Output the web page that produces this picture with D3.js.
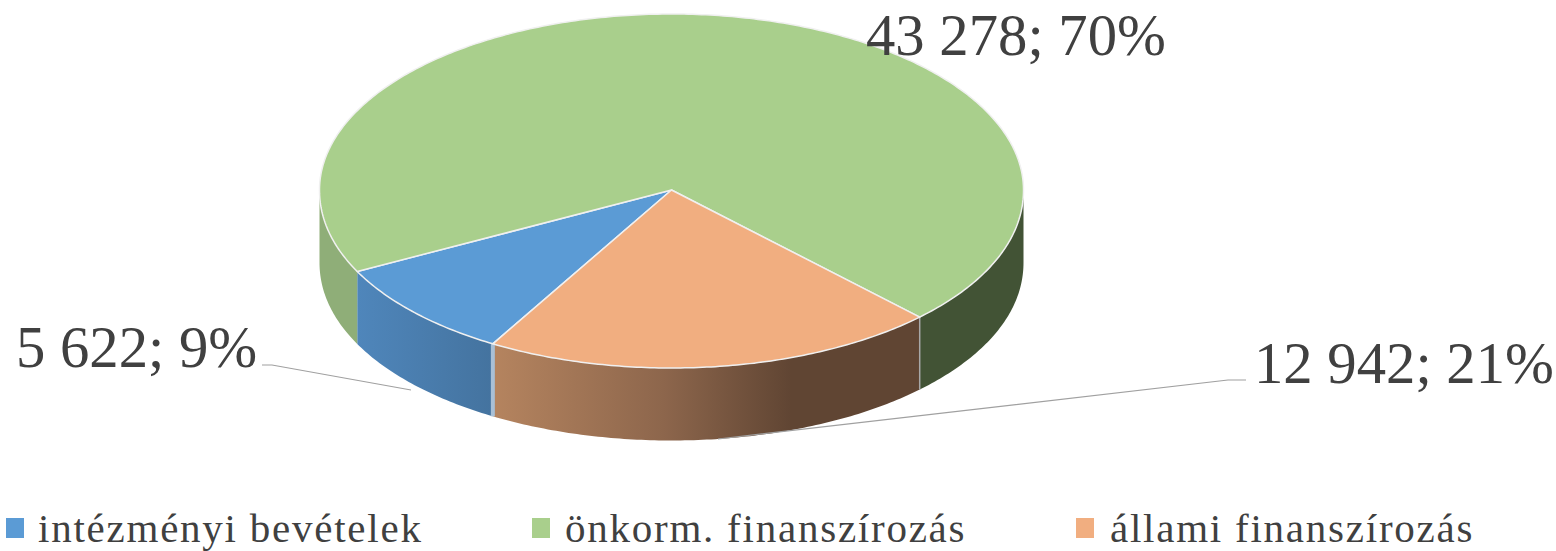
<!DOCTYPE html>
<html>
<head>
<meta charset="utf-8">
<script src="https://cdn.jsdelivr.net/npm/d3@7"></script>
<style>
  html, body { margin: 0; padding: 0; background: #fff; }
  svg { display: block; }
  text { font-family: "Liberation Serif", serif; fill: #404040; }
</style>
</head>
<body>
<svg></svg>
<script>
const categories = ['intézményi bevételek', 'önkorm. finanszírozás', 'állami finanszírozás'];
const values = [5622, 43278, 12942];
const percents = [9, 70, 21];
const valueLabels = ['5 622', '43 278', '12 942'];

const w = 1556;
const h = 551;
const cx = 671.5; // ellipse centre
const cy = 190;
const rx = 352;
const ryBack = 176; // back half of the rim
const ryFront = 178; // front half is a bit fuller (perspective)
const depth = 72.5; // height of the pie wall
const startDeg = 210.5; // first slice angle

const colors = ['#5b9bd5', '#a9cf8c', '#f1ae80'];

const svg = d3.select('svg').attr('width', w).attr('height', h);
const defs = svg.append('defs');

// unit circle -> screen ellipse
const xScale = d3.scaleLinear().domain([-1, 1]).range([cx - rx, cx + rx]);
const yScale = d3.scaleLinear().domain([-1, 0, 1]).range([cy - ryBack, cy, cy + ryFront]);
const px = (a) => xScale(Math.sin(a));
const py = (a) => {
  const c = -Math.cos(a);
  return yScale(c > 0 ? Math.pow(c, 0.98) : c);
};

const pie = d3
  .pie()
  .sort(null)
  .startAngle((startDeg * Math.PI) / 180)
  .endAngle(((startDeg + 360) * Math.PI) / 180);
const slices = pie(values);

const line = d3.line();

// points along the rim from a0 to a1
function rim(a0, a1, dy) {
  const n = Math.max(2, Math.ceil(Math.abs(a1 - a0) * 80));
  return d3.range(n + 1).map((i) => {
    const a = a0 + ((a1 - a0) * i) / n;
    return [px(a), py(a) + dy];
  });
}

// parts of a slice facing the viewer (angle between 90 and 270 deg)
function frontParts(s) {
  const parts = [];
  [0, 2 * Math.PI].forEach((off) => {
    const a0 = Math.max(s.startAngle, Math.PI / 2 + off);
    const a1 = Math.min(s.endAngle, (3 * Math.PI) / 2 + off);
    if (a1 > a0) parts.push([a0, a1]);
  });
  return parts;
}

// wall shading, left to right across each visible part
const wallStops = [
  [[0, '#4f86bb'], [1, '#44739f']],
  null,
  [[0, '#b5845f'], [0.4, '#8d664c'], [0.7, '#604533'], [1, '#604533']],
];
const greenLeft = '#8fae78';
const greenRight = '#425335';

const wallG = svg.append('g');
slices.forEach((s, i) => {
  frontParts(s).forEach((p, j) => {
    const pts = rim(p[0], p[1], 0).concat(rim(p[1], p[0], depth));
    let fill;
    if (wallStops[i]) {
      const xs = [px(p[0]), px(p[1])];
      const id = 'wall' + i + '-' + j;
      const grad = defs
        .append('linearGradient')
        .attr('id', id)
        .attr('gradientUnits', 'userSpaceOnUse')
        .attr('x1', d3.min(xs))
        .attr('x2', d3.max(xs))
        .attr('y1', 0)
        .attr('y2', 0);
      wallStops[i].forEach((st) => {
        grad.append('stop').attr('offset', st[0]).attr('stop-color', st[1]);
      });
      fill = 'url(#' + id + ')';
    } else {
      fill = j === 0 ? greenLeft : greenRight;
    }
    wallG.append('path').attr('d', line(pts) + 'Z').attr('fill', fill);
  });
});

// thin light edges where slices meet on the wall
wallG
  .selectAll('line.cut')
  .data([
    { a: slices[0].startAngle, c: '#a9c0d6', sw: 4 },
    { a: slices[2].startAngle, c: '#a8a8a8', sw: 1.5 },
  ])
  .enter()
  .append('line')
  .attr('class', 'cut')
  .attr('x1', (d) => px(d.a))
  .attr('x2', (d) => px(d.a))
  .attr('y1', (d) => py(d.a))
  .attr('y2', (d) => py(d.a) + depth)
  .attr('stroke', (d) => d.c)
  .attr('stroke-width', (d) => d.sw);

// top faces
svg
  .append('g')
  .selectAll('path')
  .data(slices)
  .enter()
  .append('path')
  .attr('d', (d) => line([[cx, cy]].concat(rim(d.startAngle, d.endAngle, 0))) + 'Z')
  .attr('fill', (d, i) => colors[i])
  .attr('stroke', '#f0f0f0')
  .attr('stroke-width', 1.5)
  .attr('stroke-linejoin', 'round');

// leader lines
const leaders = d3.line();
svg
  .append('g')
  .selectAll('path')
  .data([
    [[262, 365], [272, 365], [411, 390]],
    [[1246, 380], [1228, 380], [718, 439]],
  ])
  .enter()
  .append('path')
  .attr('d', (d) => leaders(d))
  .attr('fill', 'none')
  .attr('stroke', '#a0a0a0')
  .attr('stroke-width', 1.2);

// data labels
const labelPos = [
  { x: 16, y: 367 },
  { x: 866, y: 55 },
  { x: 1254, y: 383 },
];
svg
  .append('g')
  .selectAll('text')
  .data(categories)
  .enter()
  .append('text')
  .attr('x', (d, i) => labelPos[i].x)
  .attr('y', (d, i) => labelPos[i].y)
  .attr('font-size', 58.7)
  .text((d, i) => valueLabels[i] + '; ' + percents[i] + '%');

// legend
const markerX = [6, 532, 1076];
const legendTextX = [38, 565, 1110];
const legend = svg
  .append('g')
  .selectAll('g')
  .data(categories)
  .enter()
  .append('g');
legend
  .append('rect')
  .attr('x', (d, i) => markerX[i])
  .attr('y', 518)
  .attr('width', 18)
  .attr('height', 20)
  .attr('fill', (d, i) => colors[i]);
legend
  .append('text')
  .attr('x', (d, i) => legendTextX[i])
  .attr('y', 542)
  .attr('font-size', 41)
  .attr('letter-spacing', 1.76)
  .text((d) => d);
</script>
</body>
</html>
